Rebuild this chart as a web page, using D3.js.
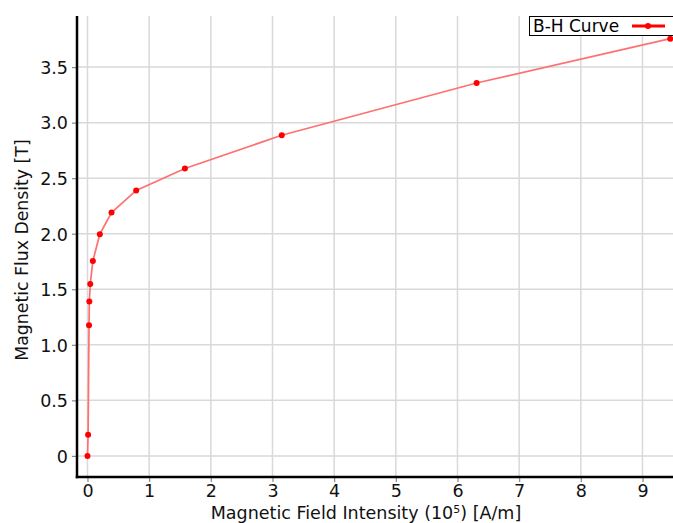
<!DOCTYPE html>
<html>
<head>
<meta charset="utf-8">
<script src="https://cdn.jsdelivr.net/npm/d3@7"></script>
<style>
  html, body { margin: 0; padding: 0; background: #fff; }
  svg { display: block; font-family: "DejaVu Sans", Verdana, sans-serif; }
</style>
</head>
<body>
<svg id="chart" width="673" height="523"></svg>
<script>
// B-H magnetisation curve samples
const fieldIntensity = [0, 0.01, 0.025, 0.03, 0.045, 0.087, 0.2, 0.39, 0.79, 1.58, 3.15, 6.31, 9.45]; // 10^5 A/m
const fluxDensity    = [0, 0.19, 1.175, 1.39, 1.547, 1.754, 1.996, 2.19, 2.39, 2.587, 2.887, 3.357, 3.756]; // T
const xTickValues = [0, 1, 2, 3, 4, 5, 6, 7, 8, 9];
const yTickValues = [0, 0.5, 1.0, 1.5, 2.0, 2.5, 3.0, 3.5];
const seriesName = "B-H Curve";

const points = fieldIntensity.map((h, i) => ({ h, b: fluxDensity[i] }));

const svg = d3.select("#chart");
const plot = { left: 77, top: 16, right: 698, bottom: 477 };

const x = d3.scaleLinear().domain([-0.17, 9.9]).range([plot.left, plot.right]);
const y = d3.scaleLinear().domain([-0.19, 3.96]).range([plot.bottom, plot.top]);

// grid
const grid = svg.append("g");
grid.selectAll("line.vx").data(xTickValues).join("line")
  .attr("x1", d => x(d)).attr("x2", d => x(d))
  .attr("y1", plot.top).attr("y2", plot.bottom)
  .attr("stroke", "#d9d9d9").attr("stroke-width", 1.5);
grid.selectAll("line.hy").data(yTickValues).join("line")
  .attr("x1", plot.left).attr("x2", plot.right)
  .attr("y1", d => y(d)).attr("y2", d => y(d))
  .attr("stroke", "#d9d9d9").attr("stroke-width", 1.5);

// axes
const fmtY = d => d === 0 ? "0" : d3.format(".1f")(d);
const xAxis = svg.append("g")
  .attr("transform", `translate(0,${plot.bottom})`)
  .call(d3.axisBottom(x).tickValues(xTickValues).tickFormat(d3.format("d")).tickSize(5).tickPadding(3));
const yAxis = svg.append("g")
  .attr("transform", `translate(${plot.left},0)`)
  .call(d3.axisLeft(y).tickValues(yTickValues).tickFormat(fmtY).tickSize(5).tickPadding(4));

[xAxis, yAxis].forEach(a => {
  a.select(".domain").remove();
  a.selectAll(".tick line").attr("stroke", "#888").attr("stroke-width", 1.2);
  a.selectAll(".tick text").attr("fill", "#111").style("font-size", "17.5px")
    .style("font-family", "'DejaVu Sans', Verdana, sans-serif");
});
yAxis.selectAll(".tick text").attr("dy", "0.36em");

// axis lines
svg.append("line").attr("x1", plot.left).attr("x2", plot.left)
  .attr("y1", plot.top).attr("y2", plot.bottom + 1.25)
  .attr("stroke", "#000").attr("stroke-width", 2.5);
svg.append("line").attr("x1", plot.left - 1.25).attr("x2", plot.right)
  .attr("y1", plot.bottom).attr("y2", plot.bottom)
  .attr("stroke", "#000").attr("stroke-width", 2.5);

// series
const line = d3.line().x(d => x(d.h)).y(d => y(d.b));
svg.append("path").datum(points)
  .attr("d", line).attr("fill", "none")
  .attr("stroke", "#ff7070").attr("stroke-width", 1.7);
svg.append("g").selectAll("circle").data(points).join("circle")
  .attr("cx", d => x(d.h)).attr("cy", d => y(d.b)).attr("r", 3)
  .attr("fill", "#ff0000");

// axis titles
const xTitle = svg.append("text")
  .attr("x", 366).attr("y", 519)
  .attr("text-anchor", "middle")
  .style("font-size", "17.5px").attr("fill", "#111");
xTitle.append("tspan").text("Magnetic Field Intensity (10");
xTitle.append("tspan").attr("dy", -6).style("font-size", "11px").text("5");
xTitle.append("tspan").attr("dy", 6).text(") [A/m]");

svg.append("text")
  .attr("transform", `translate(28,${250}) rotate(-90)`)
  .attr("text-anchor", "middle")
  .style("font-size", "17.3px").attr("fill", "#111")
  .text("Magnetic Flux Density [T]");

// legend
const lg = svg.append("g");
lg.append("rect").attr("x", 529.5).attr("y", 16.5).attr("width", 170).attr("height", 19)
  .attr("fill", "#fff").attr("stroke", "#000").attr("stroke-width", 1);
lg.append("text").attr("x", 533).attr("y", 32).style("font-size", "17px").attr("fill", "#000")
  .text(seriesName);
lg.append("line").attr("x1", 632).attr("x2", 665).attr("y1", 26).attr("y2", 26)
  .attr("stroke", "#ff0000").attr("stroke-width", 3);
lg.append("circle").attr("cx", 648).attr("cy", 26).attr("r", 3).attr("fill", "#ff0000");
</script>
</body>
</html>
